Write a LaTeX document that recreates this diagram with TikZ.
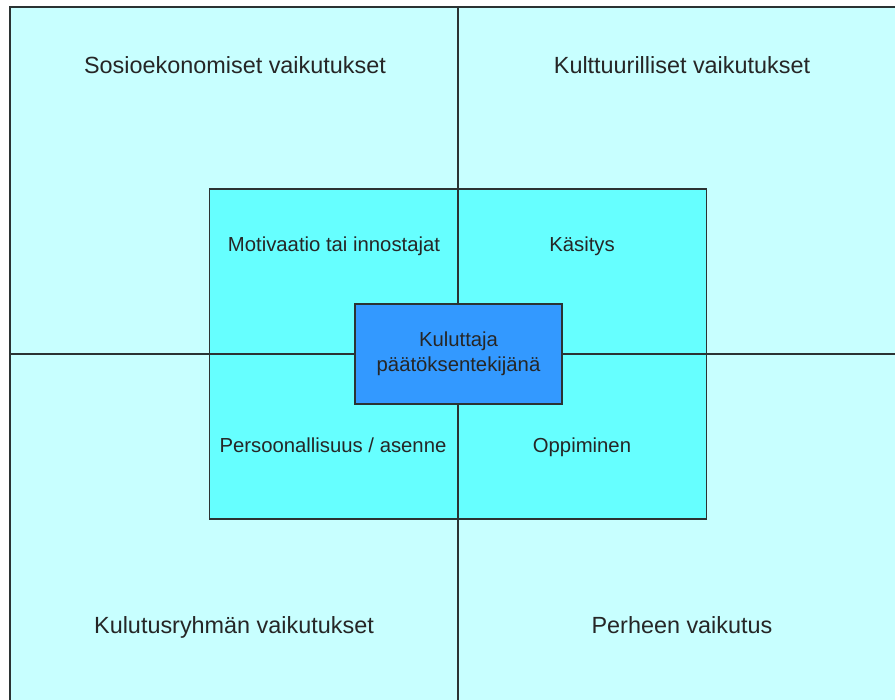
\documentclass[tikz,border=0pt]{standalone}
\usepackage{fontspec}
\setmainfont{Liberation Sans}
\usepackage{xcolor}
\usetikzlibrary{calc}
\definecolor{outercyan}{HTML}{C8FFFF}
\definecolor{innercyan}{HTML}{66FFFF}
\definecolor{centreblue}{HTML}{3399FF}
\definecolor{edgegray}{HTML}{2B3333}
\tikzset{
  quadlabel/.style={font=\fontsize{23.4}{28}\selectfont, text=black!85, inner sep=0pt, anchor=base},
  innerlabel/.style={font=\fontsize{20.3}{25}\selectfont, text=black!85, inner sep=0pt, anchor=base},
  axisline/.style={edgegray, line width=1.3pt},
}

\begin{document}
\begin{tikzpicture}[x=1pt, y=-1pt]
  \useasboundingbox (0,0) rectangle (895,700);
  \clip (0,0) rectangle (895,700);
  \draw[edgegray, line width=1.6pt, fill=outercyan] (10,7) rectangle (905,710);
  \coordinate (top) at (458,7);
  \coordinate (bottom) at (458,710);
  \coordinate (left) at (10,354);
  \coordinate (right) at (905,354);
  \draw[axisline] (top) -- (bottom);
  \draw[axisline] (left) -- (right);
  \node[draw=edgegray, line width=1.6pt, fill=innercyan, minimum width=497pt, minimum height=330pt, inner sep=0pt] (inner) at (458,354) {};
  \draw[axisline] (inner.north) -- (inner.south);
  \draw[axisline] (inner.west) -- (inner.east);
  \node[draw=edgegray, line width=1.6pt, fill=centreblue, minimum width=207pt, minimum height=100pt, align=center, font=\fontsize{20.3}{25}\selectfont, text=black!85] (centre) at (458.5,354) {Kuluttaja\\päätöksentekijänä};
  \node[quadlabel] (socio) at (235,74) {Sosioekonomiset vaikutukset};
  \node[quadlabel] (culture) at (682,74) {Kulttuurilliset vaikutukset};
  \node[quadlabel] (group) at (234,633) {Kulutusryhmän vaikutukset};
  \node[quadlabel] (family) at (682,633) {Perheen vaikutus};
  \node[innerlabel] (motive) at (334,252) {Motivaatio tai innostajat};
  \node[innerlabel] (percept) at (582,252) {Käsitys};
  \node[innerlabel] (person) at (333,453) {Persoonallisuus / asenne};
  \node[innerlabel] (learn) at (582,453) {Oppiminen};
\end{tikzpicture}
\end{document}
